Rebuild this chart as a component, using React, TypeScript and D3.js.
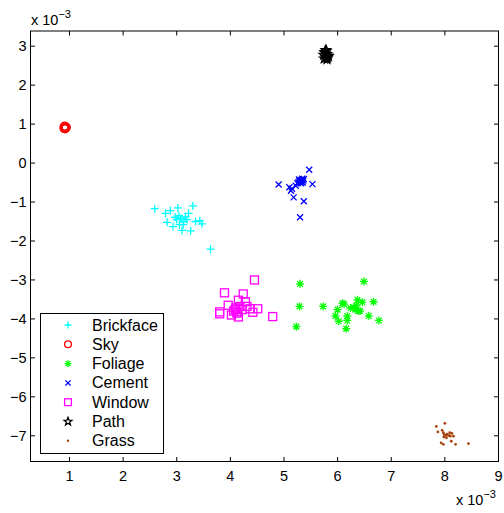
import React from "react";
import * as d3 from "d3";

// Feature-space scatter of image segmentation classes (values in units of 1e-3)
const brickfaceX = [2.59, 2.79, 2.88, 3.02, 3.30, 3.22, 3.16, 3.07, 3.00, 3.13, 2.82, 2.93, 3.10, 3.26, 3.35, 3.43, 3.47, 3.05, 3.12, 3.63, 2.97, 3.19, 3.04, 3.09];
const brickfaceY = [-1.17, -1.29, -1.22, -1.15, -1.10, -1.29, -1.38, -1.43, -1.45, -1.50, -1.52, -1.63, -1.73, -1.74, -1.50, -1.48, -1.56, -1.58, -1.58, -2.21, -1.39, -1.45, -1.35, -1.42];

const skyX = [0.92, 0.90, 0.93, 0.91, 0.92, 0.94, 0.90];
const skyY = [0.92, 0.93, 0.90, 0.95, 0.88, 0.92, 0.89];

const foliageX = [5.30, 6.49, 5.29, 5.73, 5.23, 6.09, 6.37, 6.46, 6.67, 6.00, 6.24, 6.33, 6.39, 5.96, 6.18, 6.58, 6.02, 6.18, 6.77, 6.16, 6.42, 6.30, 6.35, 6.12];
const foliageY = [-3.10, -3.04, -3.68, -3.68, -4.20, -3.60, -3.51, -3.57, -3.56, -3.76, -3.72, -3.76, -3.80, -3.92, -3.93, -3.92, -4.06, -4.04, -4.04, -4.25, -3.80, -3.70, -3.66, -3.62];

const cementX = [5.47, 4.90, 5.10, 5.13, 5.18, 5.37, 5.30, 5.53, 5.32, 5.28, 5.36, 5.25, 5.34, 5.30, 5.35, 5.29, 5.33, 5.31, 5.27, 5.37, 5.32, 5.15, 5.22];
const cementY = [-0.17, -0.55, -0.62, -0.71, -0.88, -0.98, -1.39, -0.54, -0.47, -0.42, -0.45, -0.52, -0.40, -0.50, -0.50, -0.46, -0.43, -0.44, -0.49, -0.41, -0.52, -0.66, -0.58];

const windowX = [4.45, 3.89, 4.24, 3.96, 4.15, 4.28, 3.80, 3.80, 4.02, 4.15, 4.09, 4.37, 4.42, 4.51, 4.79, 4.18, 4.06, 4.12, 4.22, 4.31, 4.10, 4.14];
const windowY = [-3.00, -3.33, -3.36, -3.65, -3.52, -3.56, -3.82, -3.87, -3.90, -3.95, -3.76, -3.74, -3.83, -3.74, -3.94, -3.68, -3.80, -3.85, -3.76, -3.68, -3.72, -3.82];

const pathX = [5.76, 5.80, 5.78, 5.82, 5.74, 5.79, 5.81, 5.77, 5.83, 5.75, 5.80, 5.78];
const pathY = [2.85, 2.80, 2.72, 2.76, 2.78, 2.88, 2.70, 2.82, 2.74, 2.68, 2.66, 2.90];

const grassX = [7.84, 8.00, 7.87, 7.95, 7.97, 7.99, 8.01, 8.04, 8.09, 8.13, 8.16, 8.03, 7.98, 7.93, 7.97, 8.12, 8.20, 8.44, 8.10, 8.07];
const grassY = [-6.76, -6.68, -6.90, -6.86, -6.92, -6.97, -6.99, -6.96, -6.92, -6.94, -7.01, -7.05, -7.03, -7.18, -7.22, -7.14, -7.22, -7.20, -7.01, -6.99];

const classNames = ["Brickface", "Sky", "Foliage", "Cement", "Window", "Path", "Grass"];
const classColors = ["#00ffff", "#ff0000", "#00ff00", "#0000ff", "#ff00ff", "#000000", "#a8400a"];
const classMarkers = ["plus", "circle", "asterisk", "cross", "square", "star", "dot"];
const xTicks = [1, 2, 3, 4, 5, 6, 7, 8, 9];
const yTicks = [-7, -6, -5, -4, -3, -2, -1, 0, 1, 2, 3];

const W = 504;
const H = 513;
const plot = { left: 30.5, right: 498.5, top: 31, bottom: 461.5 };
const FONT = "'Liberation Sans', Arial, Helvetica, sans-serif";

function Marker({ kind, color, x, y, s = 1 }: { kind: string; color: string; x: number; y: number; s?: number }) {
  const r = 4 * s;
  const sw = 1.3;
  const t = `translate(${x},${y})`;
  switch (kind) {
    case "plus":
      return <path transform={t} d={`M${-r},0H${r}M0,${-r}V${r}`} stroke={color} strokeWidth={sw} fill="none" />;
    case "cross": {
      const a = r * 0.75;
      return <path transform={t} d={`M${-a},${-a}L${a},${a}M${-a},${a}L${a},${-a}`} stroke={color} strokeWidth={sw} fill="none" />;
    }
    case "asterisk": {
      const a = r * 0.72;
      return (
        <path
          transform={t}
          d={`M${-r},0H${r}M0,${-r}V${r}M${-a},${-a}L${a},${a}M${-a},${a}L${a},${-a}`}
          stroke={color}
          strokeWidth={sw}
          fill="none"
        />
      );
    }
    case "circle":
      return <circle cx={x} cy={y} r={r} stroke={color} strokeWidth={sw} fill="none" />;
    case "square":
      return <rect x={x - r} y={y - r} width={2 * r} height={2 * r} stroke={color} strokeWidth={sw} fill="none" />;
    case "star": {
      const pts: string[] = [];
      for (let i = 0; i < 10; i++) {
        const rad = i % 2 === 0 ? r + 0.8 : (r + 0.8) * 0.42;
        const ang = -Math.PI / 2 + (i * Math.PI) / 5;
        pts.push(`${(rad * Math.cos(ang)).toFixed(2)},${(rad * Math.sin(ang)).toFixed(2)}`);
      }
      return <polygon transform={t} points={pts.join(" ")} stroke={color} strokeWidth={sw} fill="none" />;
    }
    case "dot":
      return <circle cx={x} cy={y} r={1.4 * s} fill={color} />;
    default:
      return null;
  }
}

export default function App() {
  const x = d3.scaleLinear().domain([0.273, 9]).range([plot.left, plot.right]);
  const y = d3.scaleLinear().domain([-7.66, 3.39]).range([plot.bottom, plot.top]);

  const series = [
    [brickfaceX, brickfaceY],
    [skyX, skyY],
    [foliageX, foliageY],
    [cementX, cementY],
    [windowX, windowY],
    [pathX, pathY],
    [grassX, grassY],
  ];

  const tickLen = 4.5;
  const legend = { x: 40.5, y: 313.5, w: 123, h: 140, row: 19.3 };

  return (
    <svg width={W} height={H} style={{ position: "absolute", left: 0, top: 0, background: "#fff" }} fontFamily={FONT}>
      <rect x={0} y={0} width={W} height={H} fill="#fff" />
      {/* data marks */}
      {series.map(([xs, ys], si) =>
        xs.map((xv, i) => (
          <Marker key={`${si}-${i}`} kind={classMarkers[si]} color={classColors[si]} x={x(xv)} y={y(ys[i])} />
        ))
      )}
      {/* axes box */}
      <rect
        x={plot.left}
        y={plot.top}
        width={plot.right - plot.left}
        height={plot.bottom - plot.top}
        fill="none"
        stroke="#000"
        strokeWidth={1}
      />
      {xTicks.map((t) => (
        <g key={`xt${t}`}>
          <line x1={x(t)} x2={x(t)} y1={plot.bottom} y2={plot.bottom - tickLen} stroke="#000" />
          <line x1={x(t)} x2={x(t)} y1={plot.top} y2={plot.top + tickLen} stroke="#000" />
          <text x={x(t)} y={plot.bottom + 19.5} fontSize={14.5} textAnchor="middle">
            {t}
          </text>
        </g>
      ))}
      {yTicks.map((t) => (
        <g key={`yt${t}`}>
          <line x1={plot.left} x2={plot.left + tickLen} y1={y(t)} y2={y(t)} stroke="#000" />
          <line x1={plot.right} x2={plot.right - tickLen} y1={y(t)} y2={y(t)} stroke="#000" />
          <text x={plot.left - 4} y={y(t) + 5} fontSize={14.5} textAnchor="end">
            {t < 0 ? `\u2212${-t}` : `${t}`}
          </text>
        </g>
      ))}
      {/* exponent labels */}
      <text x={31} y={25} fontSize={14.5}>
        x 10
        <tspan dy={-7} fontSize={11}>
          {"\u22123"}
        </tspan>
      </text>
      <text x={456} y={505} fontSize={14.5}>
        x 10
        <tspan dy={-7} fontSize={11}>
          {"\u22123"}
        </tspan>
      </text>
      {/* legend */}
      <rect x={legend.x} y={legend.y} width={legend.w} height={legend.h} fill="#fff" stroke="#000" strokeWidth={1} />
      {classNames.map((name, i) => {
        const cy = legend.y + 11.5 + i * legend.row;
        return (
          <g key={name}>
            <Marker kind={classMarkers[i]} color={classColors[i]} x={68} y={cy} s={0.85} />
            <text x={92} y={cy + 5.5} fontSize={16}>
              {name}
            </text>
          </g>
        );
      })}
    </svg>
  );
}
